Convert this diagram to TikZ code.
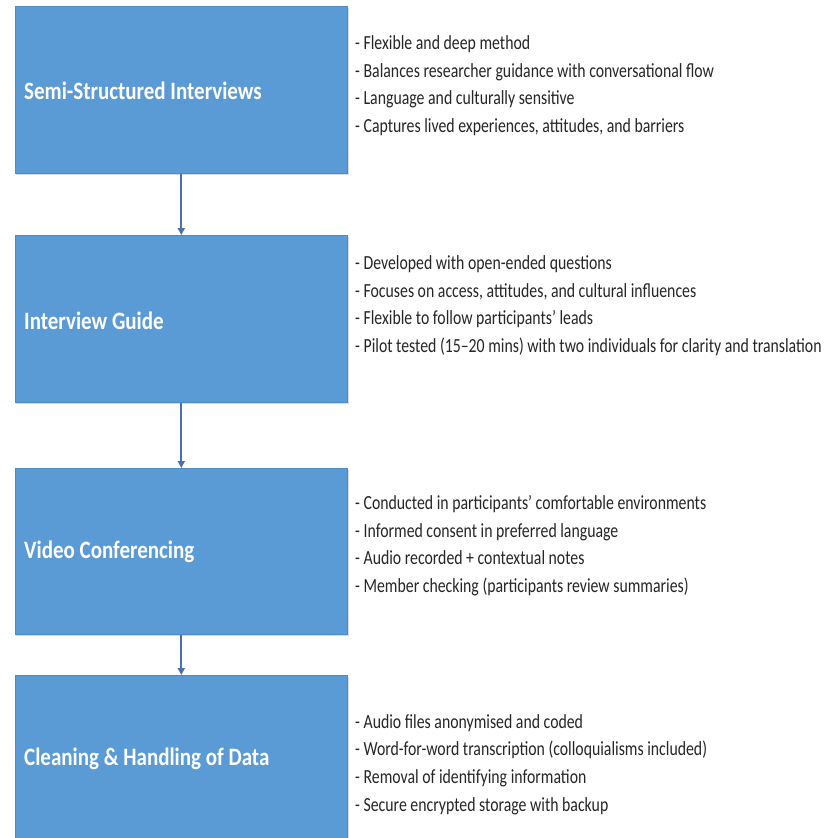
\documentclass[tikz,border=0pt]{standalone}
\usepackage{fontspec}
\setmainfont{Carlito}[FakeStretch=0.79]
\newfontfamily\titlefam{Carlito}[FakeStretch=0.84]
\usetikzlibrary{arrows.meta}
\definecolor{boxblue}{HTML}{5B9BD5}
\definecolor{boxedge}{HTML}{4F8CC6}
\definecolor{arrowblue}{HTML}{4A6FB0}
\definecolor{txt}{HTML}{262626}
\tikzset{
  stage/.style={draw=boxedge, line width=0.6pt, fill=boxblue, minimum width=332pt, inner sep=0pt, anchor=north west},
  stagetitle/.style={anchor=west, inner sep=0pt, text=white, font=\titlefam\fontsize{25}{28}\selectfont\bfseries},
  notes/.style={anchor=west, inner sep=0pt, align=left, text=txt, font=\fontsize{20}{27.6}\selectfont},
  flow/.style={draw=arrowblue, line width=2pt, -{Triangle[length=7pt,width=7pt]}},
  shade/.style={fill=black!15, draw=none}
}
\begin{document}
\begin{tikzpicture}[x=1pt,y=-1pt]
\useasboundingbox (0,0) rectangle (828,838);
\clip (0,0) rectangle (828,838);
\fill[white] (0,0) rectangle (828,838);
% shadows
\fill[shade] (16,8) rectangle (349,175);
\fill[shade] (16,237) rectangle (349,404);
\fill[shade] (16,470) rectangle (349,636);
\fill[shade] (16,677) rectangle (349,850);
% boxes
\node[stage, minimum height=167pt] (b1) at (15,6) {};
\node[stage, minimum height=167pt] (b2) at (15,235) {};
\node[stage, minimum height=166pt] (b3) at (15,468) {};
\node[stage, minimum height=175pt] (b4) at (15,675) {};
% titles
\node[stagetitle] (t1) at (24,91) {Semi-Structured Interviews};
\node[stagetitle] (t2) at (24,321) {Interview Guide};
\node[stagetitle] (t3) at (24,552) {Video Conferencing};
\node[stagetitle] (t4) at (24,759) {Cleaning \& Handling of Data};
% notes
\node[notes] (n1) at (355,85.5) {- Flexible and deep method\\- Balances researcher guidance with conversational flow\\- Language and culturally sensitive\\- Captures lived experiences, attitudes, and barriers};
\node[notes] (n2) at (355,305.5) {- Developed with open-ended questions\\- Focuses on access, attitudes, and cultural influences\\- Flexible to follow participants’ leads\\- Pilot tested (15–20 mins) with two individuals for clarity and translation};
\node[notes] (n3) at (355,545.5) {- Conducted in participants’ comfortable environments\\- Informed consent in preferred language\\- Audio recorded + contextual notes\\- Member checking (participants review summaries)};
\node[notes] (n4) at (355,764.5) {- Audio files anonymised and coded\\- Word-for-word transcription (colloquialisms included)\\- Removal of identifying information\\- Secure encrypted storage with backup};
% arrows
\draw[flow] (b1.south) -- (b2.north);
\draw[flow] (b2.south) -- (b3.north);
\draw[flow] (b3.south) -- (b4.north);
\end{tikzpicture}
\end{document}
